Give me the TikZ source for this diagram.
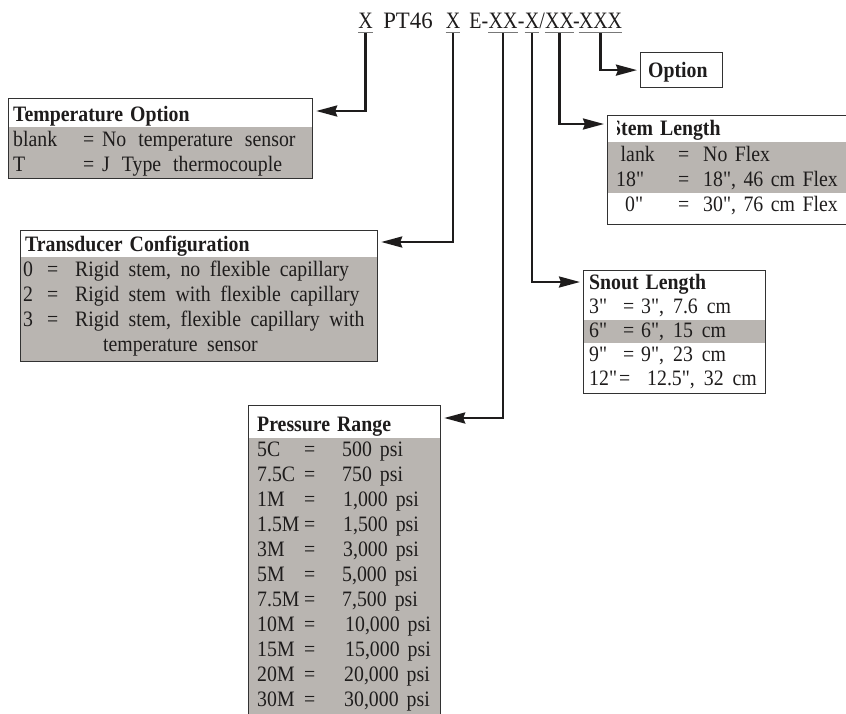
\documentclass[tikz,border=0pt]{standalone}
\usepackage{fontspec}
\setmainfont{Liberation Serif}[Ligatures=TeXOff, FakeStretch=0.9]
\newfontfamily\codefont{Liberation Serif}[FakeStretch=0.85, Ligatures=TeXOff]
\newfontfamily\codewide{Liberation Serif}[FakeStretch=0.97, Ligatures=TeXOff]
\usetikzlibrary{arrows.meta,calc}
\definecolor{rowgray}{RGB}{185,181,177}
\definecolor{ink}{RGB}{30,28,28}
\definecolor{frame}{RGB}{50,50,50}
\definecolor{ulgray}{RGB}{120,120,120}
\newcommand\mysk[1]{\spaceskip=#1\relax}
\begin{document}
\begin{tikzpicture}[x=1pt,y=-1pt,
  txt/.style={anchor=base west, inner sep=0pt, font=\fontsize{22}{25}\selectfont\mysk{9pt}, text=ink},
  ttxt/.style={txt, font=\fontsize{22}{25}\selectfont\mysk{12pt}},
  wtxt/.style={txt, font=\fontsize{22}{25}\selectfont\mysk{9.5pt}},
  ntxt/.style={txt, font=\fontsize{22}{25}\selectfont\mysk{7.5pt}},
  ptxt/.style={txt, font=\fontsize{22}{25}\selectfont\mysk{8pt}},
  hdr/.style={anchor=base west, inner sep=0pt, font=\fontsize{22}{25}\selectfont\bfseries\mysk{7pt}, text=ink},
  code/.style={anchor=base, inner sep=0pt, font=\fontsize{23.5}{28}\selectfont\codefont, text=ink},
  codew/.style={anchor=base, inner sep=0pt, font=\fontsize{23.5}{28}\selectfont\codewide, text=ink},
  frm/.style={draw=frame, line width=1.2pt, anchor=north west, inner sep=0pt},
  conn/.style={draw=ink, line width=2.4pt, -{Stealth[length=21pt,width=11pt,inset=2pt]}, shorten >=3pt},
  uline/.style={draw=ulgray, line width=1pt}
]
\useasboundingbox (0,0) rectangle (846,713);
\clip (0,0) rectangle (846,713);

% ---------- part number ----------
\node[code] (x1) at (365.5,28.5) {X};
\node[codew] (pt) at (408,28.5) {PT46};
\node[code] (x2) at (453,28.5) {X};
\node[code] (xx1) at (503,28.5) {XX};
\node[code, anchor=base east] (epart) at (xx1.base west) {E-};
\node[code] (x3) at (532,28.5) {X};
\node[code] (d1) at ($(xx1.base east)!0.5!(x3.base west)$) {-};
\node[code] (xx2) at (559.5,28.5) {XX};
\node[code] (sl) at ($(x3.base east)!0.5!(xx2.base west)$) {/};
\node[code] (xxx) at (600.5,28.5) {XXX};
\node[code] (d2) at ($(xx2.base east)!0.5!(xxx.base west)$) {-};
\foreach \n in {x1,x2,xx1,x3,xx2,xxx}
  \draw[uline] ([yshift=-4pt]\n.base west) -- ([yshift=-4pt]\n.base east);

% ---------- Option ----------
\node[frm, minimum width=82pt, minimum height=35pt] (opt) at (640,52) {};
\node[hdr] (opttxt) at (648,77) {Option};

% ---------- Temperature Option ----------
\fill[rowgray] (8,127) rectangle (312,178);
\node[frm, minimum width=304pt, minimum height=80pt] (temp) at (8,98) {};
\node[hdr] (th) at (13,121) {Temperature Option};
\node[txt] (t1a) at (13,146) {blank};
\node[txt] (t1b) at (83,146) {=};
\node[ttxt] (t1c) at (102,146) {No temperature sensor};
\node[txt] (t2a) at (13,171) {T};
\node[txt] (t2b) at (83,171) {=};
\node[ttxt] (t2c) at (102,171) {J Type thermocouple};

% ---------- Stem Length ----------
\fill[rowgray] (607,142) rectangle (880,193);
\node[frm, minimum width=273pt, minimum height=109pt] (stem) at (607,115) {};
\begin{scope}
  \clip (617.5,100) rectangle (846,140);
  \node[hdr] (sh) at (610,135) {Stem Length};
\end{scope}
\node[txt] (s1a) at (620.5,161) {lank};
\node[txt] (s1b) at (678,161) {=};
\node[ntxt] (s1c) at (703,161) {No Flex};
\node[txt] (s2a) at (616,186) {18"};
\node[txt] (s2b) at (678,186) {=};
\node[ntxt] (s2c) at (703,186) {18", 46 cm Flex};
\node[txt] (s3a) at (625,211) {0"};
\node[txt] (s3b) at (678,211) {=};
\node[ntxt] (s3c) at (703,211) {30", 76 cm Flex};

% ---------- Transducer Configuration ----------
\fill[rowgray] (20,257) rectangle (377,361);
\node[frm, minimum width=357pt, minimum height=131pt] (trans) at (20,230) {};
\node[hdr] (trh) at (25,251) {Transducer Configuration};
\node[txt] (r0a) at (23,276) {0};
\node[txt] (r0b) at (47,276) {=};
\node[wtxt] (r0c) at (75,276) {Rigid stem, no flexible capillary};
\node[txt] (r2a) at (23,301) {2};
\node[txt] (r2b) at (47,301) {=};
\node[wtxt] (r2c) at (75,301) {Rigid stem with flexible capillary};
\node[txt] (r3a) at (23,326) {3};
\node[txt] (r3b) at (47,326) {=};
\node[wtxt] (r3c) at (75,326) {Rigid stem, flexible capillary with};
\node[wtxt] (r3d) at (103,351) {temperature sensor};

% ---------- Snout Length ----------
\fill[rowgray] (583,320) rectangle (765,343);
\node[frm, minimum width=182pt, minimum height=123pt] (snout) at (583,270) {};
\node[hdr] (snh) at (589,289) {Snout Length};
\node[txt] (n1a) at (589,313) {3"};
\node[txt] (n1b) at (623,313) {=};
\node[txt] (n1c) at (641,313) {3", 7.6 cm};
\node[txt] (n2a) at (589,337) {6"};
\node[txt] (n2b) at (623,337) {=};
\node[txt] (n2c) at (641,337) {6", 15 cm};
\node[txt] (n3a) at (589,361) {9"};
\node[txt] (n3b) at (623,361) {=};
\node[txt] (n3c) at (641,361) {9", 23 cm};
\node[txt] (n4a) at (589,385) {12"};
\node[txt] (n4b) at (619,385) {=};
\node[txt] (n4c) at (647,385) {12.5", 32 cm};

% ---------- Pressure Range ----------
\fill[rowgray] (248,438) rectangle (440,740);
\node[frm, minimum width=192pt, minimum height=335pt] (press) at (248,405) {};
\node[hdr] (ph) at (257,431) {Pressure Range};
\foreach \lab/\val/\vx [count=\i] in {5C/500 psi/342, 7.5C/750 psi/342, 1M/{1,000 psi}/343, 1.5M/{1,500 psi}/343, 3M/{3,000 psi}/343, 5M/{5,000 psi}/342, 7.5M/{7,500 psi}/342, 10M/{10,000 psi}/345, 15M/{15,000 psi}/345, 20M/{20,000 psi}/344, 30M/{30,000 psi}/344}{
  \node[txt] (pa\i) at (257,431+25*\i) {\lab};
  \node[txt] (pb\i) at (304,431+25*\i) {=};
  \node[ptxt] (pc\i) at (\vx,431+25*\i) {\val};
}

% ---------- connectors ----------
\draw[conn] ([yshift=-4.5pt]x1.base) |- ([yshift=-13pt]temp.north east);
\draw[conn] ([yshift=-4.5pt]x2.base) |- ([yshift=-12pt]trans.north east);
\draw[conn] ([yshift=-4.5pt]xx1.base) |- ([yshift=-13pt]press.north east);
\draw[conn] ([yshift=-4.5pt]x3.base) |- ([yshift=-12pt]snout.north west);
\draw[conn] ([yshift=-4.5pt]xx2.base) |- ([yshift=-9pt]stem.north west);
\draw[conn] ([yshift=-4.5pt]xxx.base) |- (opt.west);
\end{tikzpicture}
\end{document}
